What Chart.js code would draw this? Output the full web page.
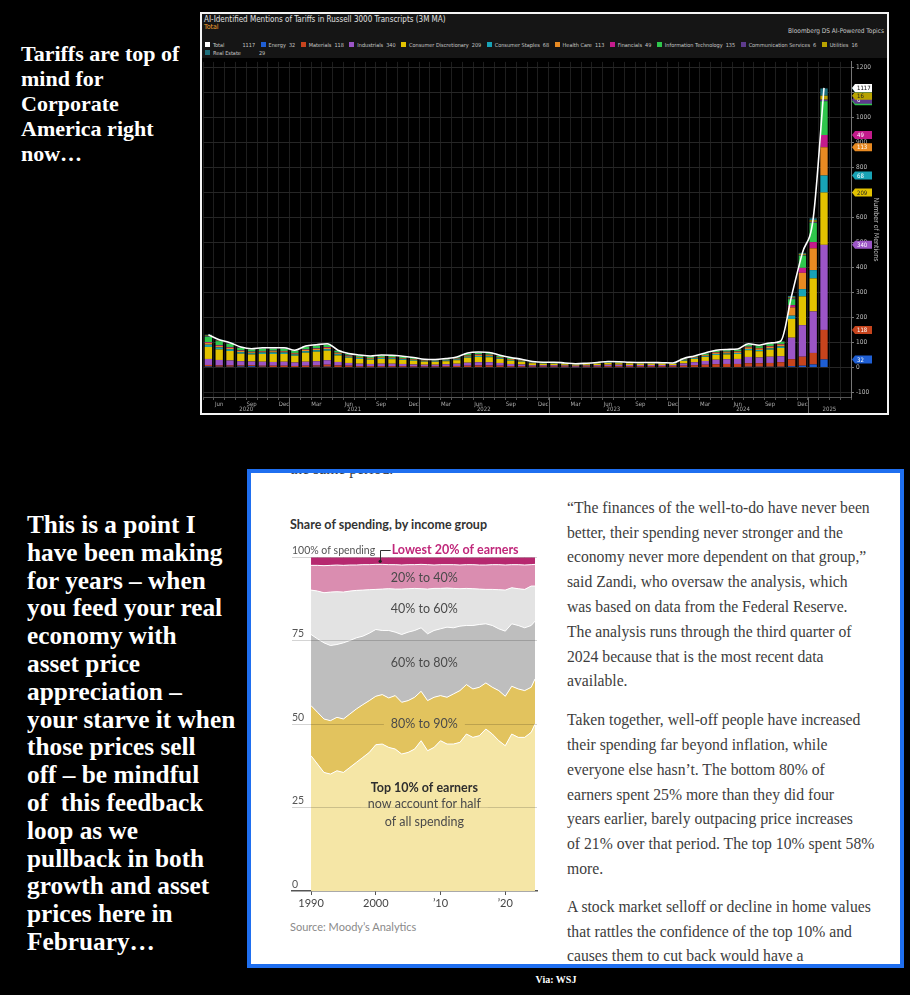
<!DOCTYPE html>
<html><head><meta charset="utf-8">
<script src="https://cdn.jsdelivr.net/npm/chart.js@4.4.1/dist/chart.umd.min.js"></script>
<style>
*{box-sizing:border-box}
html,body{margin:0;padding:0;background:#000;}
body{width:910px;height:995px;position:relative;overflow:hidden;}
.a{position:absolute;white-space:nowrap}
#t1{left:21px;top:41px;font:bold 22px/25px "Liberation Serif",serif;color:#fff}
#t2{left:27px;top:511px;font:bold 25.3px/27.8px "Liberation Serif",serif;color:#fff}
#topbox{left:200px;top:12px;width:689px;height:403px;border:2px solid #f4f4f4;background:#000}
#hdr{left:0;top:0;width:685px;height:44px;background:#151515}
.bb{font-family:"Liberation Sans Narrow","DejaVu Sans Condensed","Roboto",sans-serif}
#ttl{left:2px;top:0.5px;font-size:8px;line-height:10px;color:#e0e0e0}
#ttl2{left:2px;top:9px;font-size:7px;line-height:9px;color:#f0a030}
#srcb{right:3px;top:12.5px;font-size:6.5px;line-height:9px;color:#c8c8c8}
#lg1{left:3px;top:27px;font-size:5.5px;line-height:8px;color:#c8c8c8}
#lg2{left:3px;top:34.5px;font-size:5.5px;line-height:8px;color:#c8c8c8}
.li{display:inline-block;margin-right:5.5px}
.sw{display:inline-block;width:5px;height:5px;margin-right:3px;vertical-align:0px}
#c1{left:0;top:42px}
#wsj{left:247px;top:469px;width:657px;height:499px;border:4px solid #1f6ff0;background:#fff;overflow:hidden}
.art{font-family:"Liberation Serif",serif;font-size:15.7px;line-height:24.8px;color:#3d3d3d;left:316px}
.sans{font-family:"Lato","Roboto",sans-serif}
#ctitle{left:39px;top:44px;font-weight:bold;font-size:12.5px;line-height:16px;color:#333}
#csrc{left:39px;top:446px;font-size:11px;line-height:16px;color:#8a8a8a}
#c2{left:34px;top:62px}
#via{left:500px;top:973px;width:112px;text-align:center;font:bold 10px/14px "Liberation Serif",serif;color:#fff}
</style></head>
<body>
<div id="t1" class="a">Tariffs are top of<br>mind for<br>Corporate<br>America right<br>now…</div>
<div id="t2" class="a">This is a point I<br>have been making<br>for years – when<br>you feed your real<br>economy with<br>asset price<br>appreciation –<br>your starve it when<br>those prices sell<br>off – be mindful<br>of&nbsp; this feedback<br>loop as we<br>pullback in both<br>growth and asset<br>prices here in<br>February…</div>

<div id="topbox" class="a">
  <div id="hdr" class="a"></div>
  <div id="ttl" class="a bb">AI-Identified Mentions of Tariffs in Russell 3000 Transcripts (3M MA)</div>
  <div id="ttl2" class="a bb">Total</div>
  <div id="srcb" class="a bb">Bloomberg DS AI-Powered Topics</div>
  <div id="lg1" class="a bb"></div>
  <div id="lg2" class="a bb"></div>
  <canvas id="c1" class="a" width="685" height="357"></canvas>
</div>

<div id="wsj" class="a">
  <div class="a art" style="left:39px;top:-15.6px">the same period.</div>
  <div id="ctitle" class="a sans">Share of spending, by income group</div>
  <canvas id="c2" class="a" width="260" height="380"></canvas>
  <div id="csrc" class="a sans">Source: Moody’s Analytics</div>
  <div class="a art" style="top:22.9px">“The finances of the well-to-do have never been<br>better, their spending never stronger and the<br>economy never more dependent on that group,”<br>said Zandi, who oversaw the analysis, which<br>was based on data from the Federal Reserve.<br>The analysis runs through the third quarter of<br>2024 because that is the most recent data<br>available.</div>
  <div class="a art" style="top:235.3px">Taken together, well-off people have increased<br>their spending far beyond inflation, while<br>everyone else hasn’t. The bottom 80% of<br>earners spent 25% more than they did four<br>years earlier, barely outpacing price increases<br>of 21% over that period. The top 10% spent 58%<br>more.</div>
  <div class="a art" style="top:421.9px">A stock market selloff or decline in home values<br>that rattles the confidence of the top 10% and<br>causes them to cut back would have a</div>
</div>
<div id="via" class="a">Via: WSJ</div>

<script>
// ---------------- Chart 1 data: tariff mentions (3M MA), May 2020 – Apr 2025 axis ----------------
const months = ["2020-05","2020-06","2020-07","2020-08","2020-09","2020-10","2020-11","2020-12",
"2021-01","2021-02","2021-03","2021-04","2021-05","2021-06","2021-07","2021-08","2021-09","2021-10","2021-11","2021-12",
"2022-01","2022-02","2022-03","2022-04","2022-05","2022-06","2022-07","2022-08","2022-09","2022-10","2022-11","2022-12",
"2023-01","2023-02","2023-03","2023-04","2023-05","2023-06","2023-07","2023-08","2023-09","2023-10","2023-11","2023-12",
"2024-01","2024-02","2024-03","2024-04","2024-05","2024-06","2024-07","2024-08","2024-09","2024-10","2024-11","2024-12",
"2025-01","2025-02","2025-03","2025-04"];
const quarterTickLabels = {"03":"Mar","06":"Jun","09":"Sep","12":"Dec"};

const sectorNames = ["Energy","Materials","Industrials","Consumer Discretionary","Consumer Staples","Health Care","Financials","Information Technology","Communication Services","Utilities","Real Estate"];

const energy      = [4,3,3,4,5,3,2,2, 2,2,3,3,2,2,1,1,1,1,1,1, 1,1,2,2,2,2,2,2,1,1,1,1, 1,1,1,1,1,1,1,1,1,1,1,1, 1,2,2,2,2,2,3,3,3,3,5,7, 12,32];
const materials   = [6,5,5,4,4,4,5,5, 4,5,5,8,6,5,4,4,4,4,4,3, 3,3,3,4,5,6,6,5,4,4,3,3, 3,3,2,3,3,4,4,4,4,4,4,4, 6,7,9,11,12,12,14,14,15,18,28,36, 46,118];
const industrials = [24,22,20,17,15,16,15,16, 14,16,17,18,14,11,10,9,10,10,9,8, 7,7,8,9,12,13,13,11,9,7,5,5, 5,4,4,4,5,6,6,5,5,5,5,4, 9,12,15,18,19,20,25,23,25,24,86,126, 166,340];
const consDisc    = [48,42,38,30,28,31,32,31, 27,36,38,38,26,21,19,17,19,18,16,15, 12,11,12,14,20,21,20,16,13,11,8,6, 6,5,4,5,6,7,6,6,5,5,5,5, 10,13,16,19,19,20,27,25,28,33,75,115, 132,209];
const consStaples = [9,8,7,6,5,6,6,6, 5,6,6,6,5,4,4,3,4,4,3,3, 2,2,3,3,4,4,4,3,3,2,2,2, 2,1,1,1,1,2,2,1,1,1,1,1, 2,3,3,4,4,4,5,5,5,6,13,29, 33,68];
const healthCare  = [7,6,5,5,4,4,5,4, 4,5,5,5,4,3,3,3,3,3,3,2, 2,2,2,3,4,4,4,3,3,2,1,1, 1,1,1,1,1,1,1,1,1,1,1,1, 2,3,4,5,5,5,6,6,7,7,33,65, 87,113];
const financials  = [3,3,3,2,2,2,2,2, 2,2,2,3,2,2,1,1,1,1,1,1, 1,1,1,1,1,2,2,1,1,1,1,0, 0,0,0,0,0,0,0,0,0,0,0,0, 1,1,1,2,2,2,3,2,3,3,9,20, 25,49];
const infoTech    = [22,16,13,10,9,9,8,9, 8,10,11,10,7,5,5,5,5,5,5,4, 3,3,3,4,6,6,6,5,4,3,2,2, 2,2,1,1,2,2,2,2,2,2,1,1, 3,3,5,5,6,6,8,7,8,8,24,49, 77,135];
const commServ    = [3,2,2,2,1,2,2,2, 1,2,2,2,1,1,1,1,1,1,1,1, 1,1,1,1,2,2,1,1,1,1,0,0, 0,0,0,0,0,0,0,0,0,0,0,0, 0,1,1,1,1,1,1,1,1,1,3,3, 4,6];
const utilities   = [2,2,1,1,1,1,1,1, 1,1,1,1,1,1,1,1,1,1,1,1, 0,0,0,0,1,1,1,1,0,0,0,0, 0,0,0,0,0,0,0,0,0,0,0,0, 1,0,1,1,1,1,1,1,1,1,4,4, 6,16];
const realEstate  = [3,2,2,1,1,1,1,1, 1,1,1,1,1,1,1,1,1,1,1,1, 1,1,1,1,1,1,1,1,1,1,1,1, 1,1,1,1,1,1,1,1,1,1,1,1, 1,1,1,1,1,1,2,2,2,2,6,4, 8,29];
const totalMentions = [131,111,99,82,75,79,79,79, 69,86,91,95,69,56,50,46,50,49,45,40, 33,32,36,42,58,62,60,49,40,33,24,21, 21,18,15,17,20,24,23,21,20,20,19,18, 36,46,58,69,72,74,95,89,98,106,286,458, 596,1117];

const sectorSeries = [energy,materials,industrials,consDisc,consStaples,healthCare,financials,infoTech,commServ,utilities,realEstate];
const sectorColors = ["#1f5fd4","#c6441d","#9b55c6","#e2c200","#18a3b6","#e88a22","#c41b8c","#2fc64c","#5d3b8c","#b8a200","#1d6f7c"];
const tagTextColors = ["#fff","#fff","#fff","#222","#fff","#fff","#fff","#fff","#fff","#222","#fff"];

// ---------------- Chart 2 data: share of spending by income group ----------------
const spendYears = [1990,1991,1992,1993,1994,1995,1996,1997,1998,1999,2000,2001,2002,2003,2004,2005,2006,2007,2008,2009,2010,2011,2012,2013,2014,2015,2016,2017,2018,2019,2020,2021,2022,2023,2024,2024.6];
const top10    = [40.5,38.0,35.5,35.0,36.0,35.5,37.0,38.5,40.0,41.5,43.8,44.0,43.0,42.5,41.0,41.5,42.5,45.0,42.0,43.0,45.0,44.0,44.0,44.5,47.0,46.0,46.5,48.5,47.0,45.0,43.5,47.0,46.0,46.0,47.5,50.0];
const p80to90  = [15.0,15.5,16.0,16.0,16.0,16.0,16.0,16.0,15.8,15.5,14.5,14.8,14.8,16.0,15.5,15.5,15.5,14.8,15.0,15.0,13.5,14.0,15.0,15.5,14.8,14.5,14.5,13.8,14.0,15.0,14.8,14.3,14.5,14.0,13.5,13.5];
const p60to80  = [21.3,22.0,22.8,22.5,21.8,22.8,22.0,21.3,20.5,20.2,20.0,19.2,20.2,19.0,20.3,20.5,20.0,19.0,20.0,20.0,20.0,21.0,19.8,19.3,17.7,19.0,18.8,17.7,18.5,18.5,19.5,18.7,19.0,18.8,18.5,17.3];
const p40to60  = [13.3,14.3,15.0,16.0,15.8,15.2,14.8,14.2,13.8,13.0,12.0,12.4,12.5,12.9,13.6,13.0,12.6,11.7,13.4,12.6,12.1,11.7,11.8,11.2,11.1,11.0,10.6,10.3,10.8,11.7,12.3,10.8,11.0,11.5,11.8,10.5];
const p20to40  = [7.4,7.7,8.1,8.0,8.0,8.0,7.8,7.6,7.6,7.5,7.5,7.4,7.2,7.3,7.2,7.2,7.1,7.3,7.3,7.0,7.1,7.0,7.1,7.1,7.1,7.2,7.2,7.3,7.4,7.5,7.5,6.9,7.2,7.3,6.4,6.5];
const lowest20 = [2.5,2.5,2.6,2.5,2.4,2.5,2.4,2.4,2.3,2.3,2.2,2.2,2.3,2.3,2.4,2.3,2.3,2.2,2.3,2.4,2.3,2.3,2.3,2.4,2.3,2.3,2.4,2.4,2.3,2.3,2.4,2.3,2.3,2.4,2.3,2.2];
const decadeTicks = [1990,2000,2010,2020];
const decadeTickLabels = ["1990","2000","’10","’20"];
const shareTicks = [0,25,50,75,100];

// ---------------- HTML legend for chart 1 ----------------
const bbFont = '"Liberation Sans Narrow","DejaVu Sans Condensed","Roboto",sans-serif';
const last = totalMentions.length - 1;
function legendItem(name, color, val, gap){
  return '<span class="li"><span class="sw" style="background:'+color+'"></span>'+name+'<span style="margin-left:'+gap+'px">'+val+'</span></span>';
}
let lg1 = legendItem("Total", "#ffffff", totalMentions[last], 18);
sectorNames.forEach((n,k)=>{ if(k<10) lg1 += legendItem(n, sectorColors[k], sectorSeries[k][last], 3); });
document.getElementById('lg1').innerHTML = lg1;
document.getElementById('lg2').innerHTML = legendItem(sectorNames[10], sectorColors[10], sectorSeries[10][last], 18);

// ---------------- Chart 1 plugins ----------------
const yearPlugin = {id:'years', afterDraw(chart){
  const xs = chart.scales.x, ca = chart.chartArea, ctx = chart.ctx;
  const w = xs.getPixelForValue(1) - xs.getPixelForValue(0);
  const groups = {};
  months.forEach((m,i)=>{ const y = m.slice(0,4); (groups[y] = groups[y] || []).push(i); });
  ctx.save();
  ctx.font = '6px ' + bbFont; ctx.fillStyle = '#aaa'; ctx.textAlign = 'center'; ctx.textBaseline = 'middle';
  ctx.strokeStyle = '#666'; ctx.lineWidth = 1;
  Object.keys(groups).forEach(y=>{
    const idx = groups[y];
    let l = xs.getPixelForValue(idx[0]) - w/2, r = xs.getPixelForValue(idx[idx.length-1]) + w/2;
    if (l > ca.left + 2) { ctx.beginPath(); ctx.moveTo(Math.round(l)+0.5, ca.bottom); ctx.lineTo(Math.round(l)+0.5, ca.bottom+16); ctx.stroke(); }
    l = Math.max(l, ca.left); r = Math.min(r, ca.right);
    ctx.fillText(y, (l+r)/2, ca.bottom + 12.5);
  });
  ctx.restore();
}};

const tagPlugin = {id:'tags', afterDraw(chart){
  const ys = chart.scales.y, ctx = chart.ctx;
  const i = last;
  const items = [];
  let cum = 0;
  sectorSeries.forEach((s,k)=>{ cum += s[i]; items.push({top:cum, val:s[i], bg:sectorColors[k], fg:tagTextColors[k]}); });
  items.push({top:totalMentions[i], val:totalMentions[i], bg:'#ffffff', fg:'#000'});
  const x0 = ys.left + 1;
  ctx.save();
  ctx.font = '6px ' + bbFont; ctx.textAlign = 'left'; ctx.textBaseline = 'middle';
  items.forEach(it=>{
    const py = ys.getPixelForValue(it.top);
    const h = 8;
    ctx.fillStyle = it.bg;
    ctx.beginPath();
    ctx.moveTo(x0, py);
    ctx.lineTo(x0 + 3, py - h/2);
    ctx.lineTo(x0 + 20, py - h/2);
    ctx.lineTo(x0 + 20, py + h/2);
    ctx.lineTo(x0 + 3, py + h/2);
    ctx.closePath();
    ctx.fill();
    ctx.fillStyle = it.fg;
    ctx.fillText(String(it.val), x0 + 5, py + 0.5);
  });
  ctx.restore();
}};

Chart.defaults.font.family = bbFont;

new Chart(document.getElementById('c1'), {
  type: 'bar',
  data: {
    labels: months,
    datasets: [
      {type:'line', label:'Total', data: totalMentions, borderColor:'#ffffff', backgroundColor:'#ffffff', borderWidth:1.6, pointRadius:0, cubicInterpolationMode:'monotone', stack:'line', order:0},
      ...sectorNames.map((n,k)=>({label:n, data:sectorSeries[k], backgroundColor:sectorColors[k], stack:'bars', order:1, barPercentage:0.68, categoryPercentage:1}))
    ]
  },
  options: {
    responsive:false, animation:false, devicePixelRatio:1,
    layout:{padding:{left:1, top:4, right:0, bottom:0}},
    plugins:{legend:{display:false}, tooltip:{enabled:false}},
    scales:{
      x:{stacked:true,
         grid:{color:'#1e1e1e', offset:true, tickLength:3, tickColor:'#555'},
         border:{color:'#555'},
         ticks:{autoSkip:false, maxRotation:0, padding:1, color:'#aaa', font:{size:6},
                callback:(v,i)=> i < totalMentions.length ? (quarterTickLabels[months[i].slice(5)] || '') : ''},
         afterFit:s=>{ s.height = 16; }},
      y:{stacked:true, position:'right', min:-118, max:1221,
         grid:{color:'#262626', tickLength:3, tickColor:'#777'},
         border:{color:'#777'},
         ticks:{stepSize:100, includeBounds:false, padding:2, color:'#bbb', font:{size:6.5}, callback:(v)=>String(v)},
         title:{display:true, text:'Number of Mentions', color:'#bbb', font:{size:7}, padding:{top:7, bottom:0}},
         afterFit:s=>{ s.width = 36; }}
    }
  },
  plugins:[yearPlugin, tagPlugin]
});

// ---------------- Chart 2 ----------------
const wsjFont = '"Lato","Roboto",sans-serif';
const areaLabelPlugin = {id:'areaLabels', afterDraw(chart){
  const xs = chart.scales.x, ys = chart.scales.y, ctx = chart.ctx;
  ctx.save();
  ctx.textAlign = 'center'; ctx.textBaseline = 'middle';
  const cx = xs.getPixelForValue(2007.5);
  const labels = [
    {t:'20% to 40%', v:93.8, bold:false},
    {t:'40% to 60%', v:84.4, bold:false},
    {t:'60% to 80%', v:68.3, bold:false},
    {t:'80% to 90%', v:50.0, bold:false, bg:'#e2c35e'},
    {t:'Top 10% of earners', v:30.8, bold:true},
    {t:'now account for half', v:26.0, bold:false, bg:'#f5e6a6'},
    {t:'of all spending', v:20.8, bold:false}
  ];
  labels.forEach(l=>{
    ctx.font = (l.bold ? 'bold ' : '') + '12.5px ' + wsjFont;
    const py = ys.getPixelForValue(l.v);
    if (l.bg) { const w = ctx.measureText(l.t).width; ctx.fillStyle = l.bg; ctx.fillRect(cx - w/2 - 7, py - 3, w + 14, 6); }
    ctx.fillStyle = l.bold ? '#2e2e2e' : '#4a4a4a';
    ctx.fillText(l.t, cx, py);
  });
  // Lowest 20% callout
  const lx = xs.getPixelForValue(2000.6), ly = ys.getPixelForValue(102.2), ly2 = ys.getPixelForValue(98.7);
  ctx.strokeStyle = '#333'; ctx.lineWidth = 1;
  ctx.beginPath(); ctx.moveTo(Math.round(lx)+0.5, ly2); ctx.lineTo(Math.round(lx)+0.5, Math.round(ly)+0.5); ctx.lineTo(lx + 11, Math.round(ly)+0.5); ctx.stroke();
  ctx.fillStyle = '#222'; ctx.beginPath(); ctx.arc(lx+0.5, ly2, 1.6, 0, Math.PI*2); ctx.fill();
  ctx.font = 'bold 12.5px ' + wsjFont; ctx.textAlign = 'left'; ctx.fillStyle = '#c0277a';
  ctx.fillText('Lowest 20% of earners', lx + 12, ly + 0.5);
  ctx.restore();
}};

const mk = (label, arr, color, fill) => ({label, data: arr.map((v,i)=>({x:spendYears[i], y:v})), backgroundColor:color, borderColor:'#ffffff', borderWidth:1, pointRadius:0, fill, tension:0});

new Chart(document.getElementById('c2'), {
  type:'line',
  data:{datasets:[
    mk('Top 10% of earners', top10, '#f5e6a6', 'origin'),
    mk('80% to 90%', p80to90, '#e2c35e', '-1'),
    mk('60% to 80%', p60to80, '#bebebe', '-1'),
    mk('40% to 60%', p40to60, '#e3e3e3', '-1'),
    mk('20% to 40%', p20to40, '#da8db0', '-1'),
    mk('Lowest 20% of earners', lowest20, '#b6286f', '-1')
  ]},
  options:{
    responsive:false, animation:false, devicePixelRatio:1,
    layout:{padding:{left:7, right:8, top:22, bottom:0}},
    plugins:{legend:{display:false}, tooltip:{enabled:false}, filler:{propagate:false}},
    scales:{
      x:{type:'linear', min:1987.06, max:2024.9,
         afterBuildTicks:s=>{ s.ticks = decadeTicks.map(v=>({value:v})); },
         grid:{drawOnChartArea:false, drawTicks:true, tickLength:4, tickColor:'#555'},
         border:{display:true, color:'#555', width:1.5},
         ticks:{padding:2, color:'#444', font:{family:wsjFont, size:11}, callback:(v)=>decadeTickLabels[decadeTicks.indexOf(v)] ?? ''},
         afterFit:s=>{ s.height = 24; }},
      y:{stacked:true, min:0, max:100,
         afterBuildTicks:s=>{ s.ticks = shareTicks.map(v=>({value:v})); },
         grid:{z:1, drawTicks:false, color:(c)=> c.tick && c.tick.value===0 ? 'rgba(0,0,0,0)' : 'rgba(0,0,0,0.17)'},
         border:{display:false},
         ticks:{mirror:true, padding:0, labelOffset:-6.5, color:'#555', font:{family:wsjFont, size:10.5}, callback:(v)=> v===100 ? '100% of spending' : String(v)},
         afterFit:s=>{ s.width = 0; }}
    }
  },
  plugins:[areaLabelPlugin]
});
</script>
</body></html>
